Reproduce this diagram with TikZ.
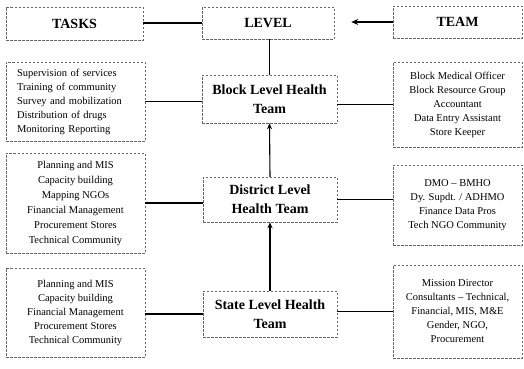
\documentclass[tikz,border=0pt]{standalone}
\usepackage{fontspec}
\setmainfont{Liberation Serif}
\usetikzlibrary{arrows.meta}

\begin{document}
\begin{tikzpicture}[x=1pt, y=-1pt,
        boxline/.style={draw=black!60, dash pattern=on 2.5pt off 1.5pt, line width=0.5pt},
        headbox/.style={boxline, inner sep=0pt, align=center, font=\bfseries\fontsize{14}{19}\selectfont},
        listbox/.style={boxline, inner sep=0pt, align=center, font=\fontsize{10.5}{14}\selectfont},
        link/.style={line width=1.1pt}]
    \useasboundingbox (0,0) rectangle (524,368);

    % top row
    \node[headbox, minimum width=137pt, minimum height=33pt] (tasks)    at (74.5,23.5)  {TASKS};
    \node[headbox, minimum width=132pt, minimum height=32pt] (level)    at (268,23)     {LEVEL};
    \node[headbox, minimum width=129pt, minimum height=32pt] (team)     at (457.5,22)   {TEAM};

    % middle column
    \node[headbox, minimum width=135pt, minimum height=48pt] (block)    at (269.5,99)   {Block Level Health\\Team};
    \node[headbox, minimum width=134pt, minimum height=45pt] (district) at (270,199.5)  {District Level\\Health Team};
    \node[headbox, minimum width=134pt, minimum height=46pt] (state)    at (270,314)    {State Level Health\\Team};

    % tasks
    \node[listbox, align=left, text width=117pt, inner xsep=11pt, minimum height=79pt] (btasks) at (75.5,101.5)
        {Supervision of services\\Training of community\\Survey and mobilization\\Distribution of drugs\\Monitoring Reporting};
    \node[listbox, minimum width=139pt, minimum height=100pt, font=\fontsize{10.5}{15}\selectfont] (dtasks) at (75.5,203)
        {Planning and MIS\\Capacity building\\Mapping NGOs\\Financial Management\\Procurement Stores\\Technical Community};
    \node[listbox, minimum width=139pt, minimum height=89pt] (stasks) at (75.5,312.5)
        {Planning and MIS\\Capacity building\\Financial Management\\Procurement Stores\\Technical Community};

    % teams
    \node[listbox, minimum width=129pt, minimum height=85pt] (bteam) at (457.5,104.5)
        {Block Medical Officer\\Block Resource Group\\Accountant\\Data Entry Assistant\\Store Keeper};
    \node[listbox, minimum width=129pt, minimum height=80pt] (dteam) at (457.5,205)
        {DMO -- BMHO\\Dy. Supdt. / ADHMO\\Finance Data Pros\\Tech NGO Community};
    \node[listbox, minimum width=129pt, minimum height=93pt] (steam) at (457.5,311.5)
        {Mission Director\\Consultants -- Technical,\\Financial, MIS, M\&E\\Gender, NGO,\\Procurement};

    \draw[link] (level.west -| tasks.east) -- (level.west);
    \draw[link, -{Stealth[length=7pt, width=6pt]}, shorten >=17pt] (team.west) -- (team.west -| level.east);
    \draw[link] (level.south -| block.north) -- (block.north);
    \draw[link, -{Stealth[length=6pt, width=5pt]}] (district.north) -- (block.south);
    \draw[link, -{Stealth[length=6pt, width=5pt]}] (state.north) -- (district.south);

    \draw[link] (btasks.east) -- (btasks.east -| block.west);
    \draw[link] (dtasks.east) -- (dtasks.east -| district.west);
    \draw[link] (state.west -| stasks.east) -- (state.west);

    \draw[link] (bteam.west -| block.east) -- (bteam.west);
    \draw[link] (district.east) -- (district.east -| dteam.west);
    \draw[link] (steam.west -| state.east) -- (steam.west);
\end{tikzpicture}
\end{document}
